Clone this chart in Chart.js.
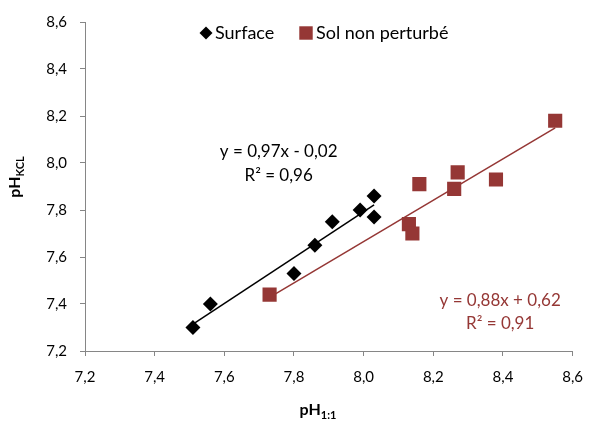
<!DOCTYPE html>
<html>
<head>
<meta charset="utf-8">
<script src="https://cdn.jsdelivr.net/npm/chart.js@4"></script>
<style>
  html, body { margin: 0; padding: 0; background: #fff; }
</style>
</head>
<body>
<canvas id="myChart" width="595" height="421"></canvas>
<script>
var seriesNames = ["Surface", "Sol non perturbé"];
var surfaceX = [7.51, 7.56, 7.80, 7.86, 7.91, 7.99, 8.03, 8.03];
var surfaceY = [7.30, 7.40, 7.53, 7.65, 7.75, 7.80, 7.77, 7.86];
var solX = [7.73, 8.13, 8.14, 8.16, 8.26, 8.27, 8.38, 8.55];
var solY = [7.44, 7.74, 7.70, 7.91, 7.89, 7.96, 7.93, 8.18];
var surfaceEquation = ["y = 0,97x - 0,02", "R² = 0,96"];
var solEquation = ["y = 0,88x + 0,62", "R² = 0,91"];
var axisMin = 7.2;
var axisMax = 8.6;
var axisStep = 0.2;

var black = "#000000";
var darkRed = "#953735";
var axisGrey = "#868686";
var fontName = "Lato";

function toPoints(xs, ys){
    return xs.map(function(x, i){ return {x: x, y: ys[i]}; });
}

// least squares line over the x range of the series
function trendPoints(xs, ys){
    var n = xs.length, mx = 0, my = 0, sxy = 0, sxx = 0;
    xs.forEach(function(x, i){ mx += x; my += ys[i]; });
    mx /= n; my /= n;
    xs.forEach(function(x, i){
        sxy += (x - mx) * (ys[i] - my);
        sxx += (x - mx) * (x - mx);
    });
    var a = sxy / sxx, b = my - a * mx;
    var lo = Math.min.apply(null, xs), hi = Math.max.apply(null, xs);
    return [{x: lo, y: a * lo + b}, {x: hi, y: a * hi + b}];
}

function commaTick(value){
    return Number(value).toFixed(1).replace(".", ",");
}

// text with a lowered, smaller part after it (pH + subscript)
function subText(ctx, main, sub, x, y){
    ctx.font = "bold 16px " + fontName;
    var w1 = ctx.measureText(main).width;
    ctx.font = "bold 11px " + fontName;
    var w2 = ctx.measureText(sub).width;
    var start = x - (w1 + w2) / 2;
    ctx.font = "bold 16px " + fontName;
    ctx.fillText(main, start, y);
    ctx.font = "bold 11px " + fontName;
    ctx.fillText(sub, start + w1, y + 4);
}

var extras = {
    id: "extras",
    afterDraw: function(chart){
        var ctx = chart.ctx;
        var xs = chart.scales.x, ys = chart.scales.y;
        ctx.save();
        ctx.fillStyle = black;
        ctx.textBaseline = "alphabetic";
        ctx.textAlign = "left";

        // axis titles
        subText(ctx, "pH", "1:1", 318, 415);
        ctx.save();
        ctx.translate(20, 177);
        ctx.rotate(-Math.PI / 2);
        subText(ctx, "pH", "KCL", 0, 0);
        ctx.restore();

        // series key
        var ds = chart.data.datasets;
        ctx.font = "18px " + fontName;
        ctx.textBaseline = "middle";
        ctx.fillStyle = ds[0].backgroundColor;
        Chart.helpers.drawPoint(ctx, {pointStyle: "rectRot", radius: 6.5, borderWidth: 0}, 206, 33);
        ctx.fillText(seriesNames[0], 215, 33);
        ctx.fillStyle = ds[1].backgroundColor;
        Chart.helpers.drawPoint(ctx, {pointStyle: "rect", radius: 9.5, borderWidth: 0}, 306, 33);
        ctx.fillStyle = black;
        ctx.fillText(seriesNames[1], 316, 33);

        // trendline equations
        ctx.font = "17px " + fontName;
        ctx.textAlign = "center";
        var bx = xs.getPixelForValue(7.756), by = ys.getPixelForValue(8.047);
        ctx.fillStyle = black;
        ctx.fillText(surfaceEquation[0], bx, by);
        ctx.fillText(surfaceEquation[1], bx, by + 23.5);
        var rx = xs.getPixelForValue(8.392), ry = ys.getPixelForValue(7.416);
        ctx.fillStyle = darkRed;
        ctx.fillText(solEquation[0], rx, ry);
        ctx.fillText(solEquation[1], rx, ry + 23.5);
        ctx.restore();
    }
};

function axisOptions(isX){
    return {
        type: "linear",
        min: axisMin,
        max: axisMax,
        border: {color: axisGrey, width: 1},
        grid: {drawOnChartArea: false, color: axisGrey, tickLength: 5, tickWidth: 1},
        ticks: {
            stepSize: axisStep,
            padding: isX ? 12 : 13,
            color: black,
            font: {family: fontName, size: 15},
            callback: commaTick
        },
        afterFit: function(scale){
            if (isX) scale.height = 70;
            else scale.width = 85;
        }
    };
}

new Chart("myChart", {
    type: "scatter",
    data: {
        datasets: [{
            label: seriesNames[0],
            data: toPoints(surfaceX, surfaceY),
            pointStyle: "rectRot",
            pointRadius: 7.5,
            backgroundColor: black,
            borderColor: black,
            borderWidth: 0
        }, {
            label: seriesNames[1],
            data: toPoints(solX, solY),
            pointStyle: "rect",
            pointRadius: 10,
            backgroundColor: darkRed,
            borderColor: darkRed,
            borderWidth: 0
        }, {
            label: "trend " + seriesNames[0],
            data: trendPoints(surfaceX, surfaceY),
            showLine: true,
            pointRadius: 0,
            borderColor: black,
            borderWidth: 1.5
        }, {
            label: "trend " + seriesNames[1],
            data: trendPoints(solX, solY),
            showLine: true,
            pointRadius: 0,
            borderColor: darkRed,
            borderWidth: 1.5
        }]
    },
    options: {
        responsive: false,
        animation: false,
        events: [],
        layout: {padding: {top: 22, right: 10, bottom: 0, left: 0}},
        plugins: {
            legend: {display: false},
            tooltip: {enabled: false}
        },
        scales: {
            x: axisOptions(true),
            y: axisOptions(false)
        }
    },
    plugins: [extras]
});
</script>
</body>
</html>
